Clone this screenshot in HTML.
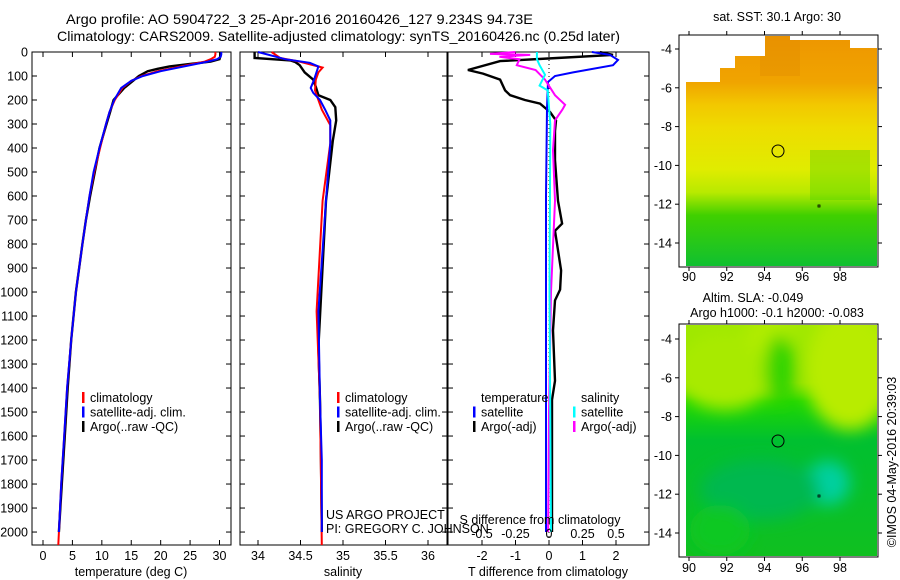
<!DOCTYPE html>
<html><head><meta charset="utf-8"><style>
body{margin:0;background:#fff;}
svg{display:block;font-family:"Liberation Sans",sans-serif;}
text{font-size:12.5px;fill:#000;}
</style></head><body>
<svg id="c" width="900" height="580" viewBox="0 0 900 580">
<defs>
<linearGradient id="sst" x1="0" y1="0" x2="0" y2="1">
<stop offset="0" stop-color="#ee9600"/><stop offset="0.2" stop-color="#f0a400"/><stop offset="0.3" stop-color="#f2c800"/><stop offset="0.4" stop-color="#eedc00"/><stop offset="0.58" stop-color="#e0ec00"/><stop offset="0.68" stop-color="#b8ea00"/><stop offset="0.78" stop-color="#40d000"/><stop offset="1" stop-color="#10c030"/>
</linearGradient>
<linearGradient id="sla" x1="0" y1="0" x2="0" y2="1">
<stop offset="0" stop-color="#a0e800"/><stop offset="0.25" stop-color="#90e400"/><stop offset="0.33" stop-color="#20d800"/><stop offset="0.5" stop-color="#00c030"/><stop offset="1" stop-color="#10c020"/>
</linearGradient>
<filter id="blur"><feGaussianBlur stdDeviation="8"/></filter>
<clipPath id="m2clip"><rect x="686" y="325" width="191" height="231"/></clipPath>
</defs>
<g>
<text x="66" y="24" textLength="467" lengthAdjust="spacingAndGlyphs" style="font-size:14px">Argo profile: AO 5904722_3 25-Apr-2016 20160426_127 9.234S 94.73E</text>
<text x="57" y="41" textLength="563" lengthAdjust="spacingAndGlyphs" style="font-size:14px">Climatology: CARS2009. Satellite-adjusted climatology: synTS_20160426.nc (0.25d later)</text>
</g>
<g id="plots"></g>
<!-- maps -->
<g>
<rect x="686" y="36" width="191" height="230" fill="url(#sst)"/>
<rect x="760" y="36" width="40" height="40" fill="#e08a00" opacity="0.35"/>
<rect x="810" y="150" width="60" height="50" fill="#40d000" opacity="0.35"/>
<polygon points="686,36 765,36 765,56 735,56 735,68 720,68 720,82 686,82" fill="#fff"/>
<polygon points="790,36 877,36 877,48 850,48 850,40 790,40" fill="#fff"/>
<circle cx="778" cy="151" r="6" fill="none" stroke="#000" stroke-width="1"/>
<rect x="818" y="205" width="2" height="2" fill="none" stroke="#000" stroke-width="0.8"/>
<rect x="679" y="35" width="199" height="232" fill="none" stroke="#000" stroke-width="1"/>
</g>
<g>
<rect x="686" y="325" width="191" height="231" fill="url(#sla)"/>
<g clip-path="url(#m2clip)" filter="url(#blur)">
<ellipse cx="725" cy="370" rx="50" ry="40" fill="#a8ea00"/>
<ellipse cx="850" cy="370" rx="45" ry="60" fill="#b8ec00"/>
<ellipse cx="770" cy="335" rx="25" ry="20" fill="#b0ec00"/>
<ellipse cx="780" cy="370" rx="15" ry="35" fill="#30d400"/>
<ellipse cx="828" cy="483" rx="22" ry="22" fill="#00d0a0"/>
<ellipse cx="760" cy="490" rx="60" ry="30" fill="#00b850"/>
<ellipse cx="720" cy="530" rx="30" ry="25" fill="#10c820"/>
</g>
<circle cx="778" cy="441" r="6" fill="none" stroke="#000" stroke-width="1"/>
<rect x="818" y="495" width="2" height="2" fill="none" stroke="#000" stroke-width="0.8"/>
<rect x="679" y="324" width="199" height="233" fill="none" stroke="#000" stroke-width="1"/>
</g>
<text x="777" y="21" text-anchor="middle">sat. SST: 30.1 Argo: 30</text>
<text x="753" y="302" text-anchor="middle">Altim. SLA: -0.049</text>
<text x="777" y="317" text-anchor="middle">Argo h1000: -0.1 h2000: -0.083</text>
<text transform="translate(896,462) rotate(-90)" text-anchor="middle">©IMOS 04-May-2016 20:39:03</text>
<g id="mapaxes"></g>
</svg>
<script>
const NS='http://www.w3.org/2000/svg';
// depth axis
const depthTicks=[0,100,200,300,400,500,600,700,800,900,1000,1100,1200,1300,1400,1500,1600,1700,1800,1900,2000];
// temperature panel
const tDepth=[0,10,20,30,40,50,60,70,80,100,120,150,200,250,300,400,500,600,700,800,1000,1200,1400,1600,1800,2000];
const tArgo=[30.2,30.2,30.1,30.0,28.5,25,21.5,19.5,17.8,16.3,15.3,13.8,12.0,11.4,10.8,9.6,8.8,8.0,7.3,6.7,5.6,4.8,4.2,3.7,3.2,2.7];
const tClim=[29.3,29.3,29.2,28.5,27.5,25.5,23.5,21.5,19.5,16.8,15,13.5,12.2,11.3,10.7,9.7,8.7,7.9,7.3,6.7,5.6,4.8,4.1,3.6,3.1,2.6];
const tSat=[30.3,30.3,30.2,29.6,28,26,24,22,20,17,15,13.3,12.1,11.3,10.7,9.6,8.6,7.9,7.3,6.7,5.6,4.8,4.1,3.6,3.1,2.7];
const tTicks=[0,5,10,15,20,25,30];
// salinity panel
const sArgoDepth=[0,10,25,35,42,55,85,115,145,180,200,230,285,370,620,1230,1450,1660,2000];
const sArgo=[33.96,33.96,33.96,34.38,34.44,34.49,34.55,34.65,34.68,34.71,34.85,34.91,34.92,34.88,34.80,34.71,34.73,34.74,34.75];
const sClimDepth=[0,25,40,65,85,115,160,200,240,305,380,620,1080,1450,2054];
const sClim=[34.16,34.26,34.49,34.76,34.71,34.68,34.67,34.71,34.75,34.85,34.85,34.76,34.69,34.73,34.75];
const sSatDepth=[0,30,45,60,115,150,170,200,240,285,380,620,1080,1450,1700,2000];
const sSat=[34.00,34.32,34.61,34.71,34.66,34.62,34.65,34.73,34.79,34.85,34.85,34.80,34.71,34.73,34.75,34.75];
const sTicks=[34,34.5,35,35.5,36];
// difference panel
const dTSatDepth=[0,12,33,55,85,100,125,235,600,1000,1500,2000];
const dTSat=[1.28,1.82,2.06,1.91,0.72,0.18,-0.03,-0.06,-0.09,-0.09,-0.09,-0.09];
const dTArgoDepth=[0,12,25,38,75,90,115,160,180,200,215,250,285,330,450,620,715,745,910,990,1035,1160,1370,1450,2000];
const dTArgo=[1.52,1.91,0.24,-1.46,-2.42,-1.97,-1.46,-1.31,-1.16,-0.72,-0.27,0.03,0.21,0.18,0.18,0.27,0.39,0.18,0.36,0.33,0.18,0.12,0.18,0.09,0.09];
const dSSatDepth=[0,30,55,95,140,160,300,1000,2000];
const dSSat=[-0.09,-0.09,-0.07,-0.03,-0.07,-0.01,0.01,0.004,0.015];
const dSArgoDepth=[0,8,12,20,30,55,75,115,180,220,240,285,410,620,1000,1500,2000];
const dSArgo=[-0.25,-0.44,-0.14,-0.37,-0.22,-0.24,-0.10,-0.03,0.045,0.12,0.10,0.045,0.03,0.045,0.015,0,-0.007];
const dTTicks=[-2,-1,0,1,2];
const dSTicks=[-0.5,-0.25,0,0.25,0.5];
const dSTickLabels=['-0.5','-0.25','0','0.25','0.5'];
// maps
const lonTicks=[90,92,94,96,98];
const latTicks=[-4,-6,-8,-10,-12,-14];

const root=document.getElementById('plots');
const Y0=52,Y1=545,DMAX=2054;
const yD=d=>Y0+(d/DMAX)*(Y1-Y0);
function el(tag,attrs,parent){const e=document.createElementNS(NS,tag);for(const k in attrs)e.setAttribute(k,attrs[k]);(parent||root).appendChild(e);return e;}
function txt(x,y,s,anchor,parent){const t=el('text',{x:x,y:y,'text-anchor':anchor||'middle'},parent);t.textContent=s;return t;}
function lin(a0,a1,p0,p1){return v=>p0+(v-a0)/(a1-a0)*(p1-p0);}
function line(xs,ds,xf,color,name,w){
  const p=el('polyline',{points:xs.map((v,i)=>xf(v).toFixed(1)+','+yD(ds[i]).toFixed(1)).join(' '),fill:'none',stroke:color,'stroke-width':w||2});
  
  
}
function frame(x0,x1,name){
  const r=el('rect',{x:x0,y:Y0,width:x1-x0,height:Y1-Y0,fill:'none',stroke:'#000','stroke-width':1});
  
  
  depthTicks.forEach(d=>{const y=yD(d);el('line',{x1:x0,y1:y,x2:x0+5,y2:y,stroke:'#000'});el('line',{x1:x1-5,y1:y,x2:x1,y2:y,stroke:'#000'});});
}
function xticks(ticks,labels,xf,x0,x1,ly,name){
  const g=el('g',{});
  
  
  ticks.forEach((v,i)=>{const x=xf(v);el('line',{x1:x,y1:Y1,x2:x,y2:Y1-5,stroke:'#000'},g);el('line',{x1:x,y1:Y0,x2:x,y2:Y0+5,stroke:'#000'},g);txt(x,ly,labels[i],'middle',g);});
}
// depth labels
const dg=el('g',{});


depthTicks.forEach(d=>txt(28,yD(d)+4.5,String(d),'end',dg));

// Panel 1
const xT=lin(0,30,43,219.5);
frame(32,231,'temperature-panel');
xticks(tTicks,tTicks.map(String),xT,32,231,560,'temperature-x-axis');
txt(131,576,'temperature (deg C)');
line(tArgo,tDepth.map(d=>d),xT,'#000','temperature-argo-line',2.4);
line(tClim,tDepth.map((d,i)=>i==tDepth.length-1?DMAX:d),xT,'#f00','temperature-climatology-line');
line(tSat,tDepth,xT,'#00f','temperature-satellite-line');

// Panel 2
const xS=lin(34,36,258,428);
frame(240,447,'salinity-panel');
xticks(sTicks,sTicks.map(String),xS,240,447,560,'salinity-x-axis');
txt(343,576,'salinity');
line(sArgo,sArgoDepth,xS,'#000','salinity-argo-line',2.4);
line(sClim,sClimDepth,xS,'#f00','salinity-climatology-line');
line(sSat,sSatDepth,xS,'#00f','salinity-satellite-line');

// Panel 3
const xdT=lin(0,2,549,616);
const xdS=lin(0,0.5,549,616);
frame(448,649,'difference-panel');
xticks(dTTicks,dTTicks.map(String),xdT,448,649,560,'t-difference-x-axis');
txt(548,576,'T difference from climatology');
el('line',{x1:549,y1:Y0,x2:549,y2:Y1,stroke:'#000','stroke-dasharray':'1,3'});
line(dTArgo,dTArgoDepth,xdT,'#000','t-difference-argo-line',2.4);
line(dTSat,dTSatDepth,xdT,'#00f','t-difference-satellite-line');
line(dSArgo,dSArgoDepth,xdS,'#f0f','s-difference-argo-line');
line(dSSat,dSSatDepth,xdS,'#0ff','s-difference-satellite-line');
const sg=el('g',{});


dSTicks.forEach((v,i)=>txt(xdS(v),538,dSTickLabels[i],'middle',sg));
txt(540,524,'S difference from climatology','middle',sg);

// legends
function legend(x,y,items,name){
  const g=el('g',{});
  
  
  items.forEach((it,i)=>{if(it[0])el('rect',{x:x,y:y+i*14.5-10,width:2.5,height:11,fill:it[0]},g);txt(x+(it[0]?8:0),y+i*14.5,it[1],'start',g);});
}
legend(82,402,[['#f00','climatology'],['#00f','satellite-adj. clim.'],['#000','Argo(..raw -QC)']],'temperature-legend');
legend(337,402,[['#f00','climatology'],['#00f','satellite-adj. clim.'],['#000','Argo(..raw -QC)']],'salinity-legend');
legend(481,402,[[null,'temperature']],'diff-legend-title-t');
legend(473,416.5,[['#00f','satellite'],['#000','Argo(-adj)']],'diff-legend-temperature');
legend(581,402,[[null,'salinity']],'diff-legend-title-s');
legend(573,416.5,[['#0ff','satellite'],['#f0f','Argo(-adj)']],'diff-legend-salinity');
const cr=el('g',{});


txt(326,519,'US ARGO PROJECT','start',cr);
txt(326,533,'PI: GREGORY C. JOHNSON','start',cr);

// map axes
const ma=document.getElementById('mapaxes');
const xLon=lin(90,98,689,840);
[[35,267,49,243,281],[324,557,339,533,572]].forEach((m,mi)=>{
  const g=el('g',{},ma);
  
  
  const yLat=lin(-4,-14,m[2],m[3]);
  lonTicks.forEach(v=>{const x=xLon(v);el('line',{x1:x,y1:m[0]-4,x2:x,y2:m[0],stroke:'#000'},g);el('line',{x1:x,y1:m[1],x2:x,y2:m[1]+4,stroke:'#000'},g);txt(x,m[4],String(v),'middle',g);});
  latTicks.forEach(v=>{const y=yLat(v);el('line',{x1:675,y1:y,x2:679,y2:y,stroke:'#000'},g);el('line',{x1:878,y1:y,x2:882,y2:y,stroke:'#000'},g);txt(672,y+4.5,String(v),'end',g);});
});
</script>
</body></html>
